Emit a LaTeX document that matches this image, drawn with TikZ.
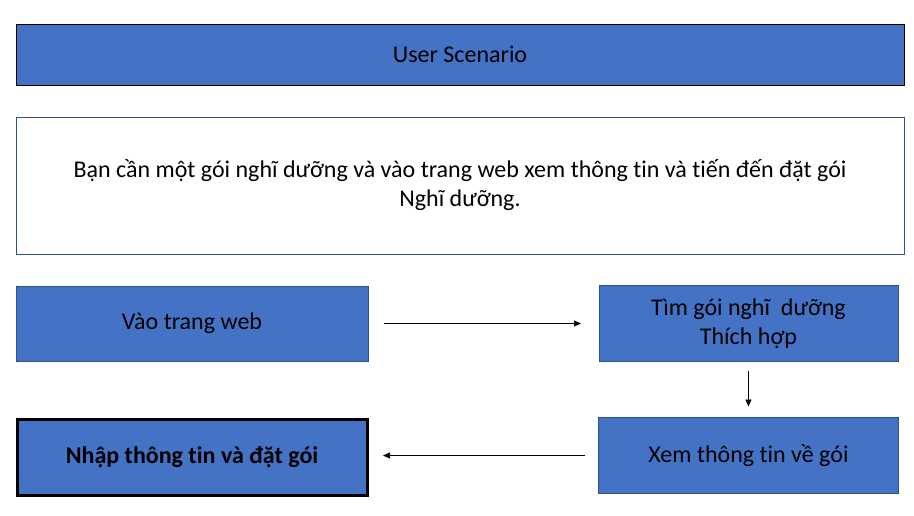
\documentclass[tikz,border=0pt]{standalone}
\usepackage{fontspec}
\setmainfont[Ligatures=NoCommon]{Carlito}
\usepackage[dvipsnames]{xcolor}
\usetikzlibrary{positioning, arrows.meta}

\definecolor{boxblue}{HTML}{4472C4}
\definecolor{boxedge}{HTML}{2F528F}

\tikzset{
	stepbox/.style={draw=boxedge, line width=0.8pt, fill=boxblue, align=center, inner sep=0pt, outer sep=0pt,
		font=\fontsize{24}{29}\selectfont},
	flow/.style={-{Triangle[length=7pt,width=6pt]}, line width=0.7pt}
}

\begin{document}
\begin{tikzpicture}[node distance=32pt]
	\useasboundingbox (0,0) rectangle (914pt,-516pt);
	\node[stepbox, draw=black, minimum width=888pt, minimum height=61pt] (title) at (460pt,-54.5pt) {User Scenario};
	\node[stepbox, fill=white, minimum width=888pt, minimum height=137pt, below=of title] (story)
		{Bạn cần một gói nghĩ dưỡng và vào trang web xem thông tin và tiến đến đặt gói\\Nghĩ dưỡng.};
	\node[stepbox, minimum width=352pt, minimum height=75pt, below=of story.south west, anchor=north west] (web) {Vào trang web};
	\node[stepbox, minimum width=299pt, minimum height=76pt, right=231pt of web] (find) {Tìm gói nghĩ~ dưỡng\\Thích hợp};
	\node[stepbox, minimum width=300pt, minimum height=76pt, below=56pt of find] (view) {Xem thông tin về gói};
	\node[stepbox, draw=black, line width=3pt, minimum width=350pt, minimum height=76pt, font=\fontsize{24}{29}\selectfont\bfseries,
		below=58pt of web] (order) {Nhập thông tin và đặt gói};
	\draw[flow, shorten <=16pt, shorten >=18pt] (web) -- (find);
	\draw[flow, shorten <=9pt, shorten >=11pt] (find) -- (view);
	\draw[flow, shorten <=14pt, shorten >=16pt] (view.west) -- (view.west -| order.east);
\end{tikzpicture}
\end{document}
